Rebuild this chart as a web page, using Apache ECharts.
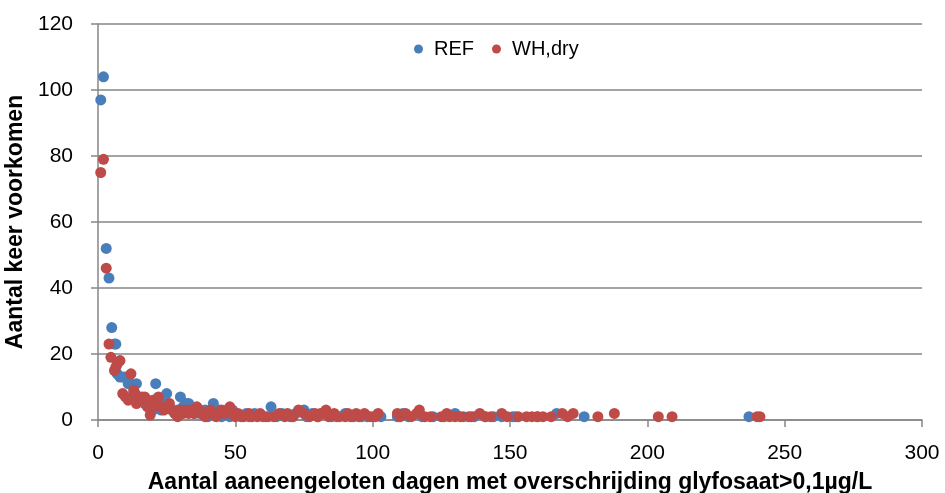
<!DOCTYPE html>
<html>
<head>
<meta charset="utf-8">
<script src="https://cdn.jsdelivr.net/npm/echarts@6/dist/echarts.min.js"></script>
<style>
  html, body { margin: 0; padding: 0; background: #fff; }
  #chart { width: 945px; height: 493px; }
</style>
</head>
<body>
<div id="chart"></div>
<script>
	'use strict';

	/****** data *****/
	var seriesNames = ['REF', 'WH,dry'];
	var xTicks = [0, 50, 100, 150, 200, 250, 300];
	var yTicks = [0, 20, 40, 60, 80, 100, 120];

	var refData = [
		[1, 97], [2, 104], [3, 52], [4, 43], [5, 28], [6, 23], [6.5, 23], [7, 14], [8, 13], [9, 13],
		[10, 13], [11, 11], [12, 11], [13, 8], [14, 11], [15, 7], [16, 6], [17, 5], [18, 6], [19, 4],
		[20, 3], [21, 11], [22, 4], [23, 3], [24, 5], [25, 8], [26, 4], [27, 3], [28, 2], [29, 3],
		[30, 7], [31, 4], [32, 5], [33, 5], [34, 3], [35, 2], [36, 3], [37, 2], [38, 2], [39, 3],
		[40, 1], [41, 2], [42, 5], [43, 2], [44, 3], [45, 1], [46, 2], [47, 2], [48, 1], [49, 3],
		[50, 2], [52, 1], [54, 2], [55, 1], [57, 2], [60, 1], [62, 1], [63, 4], [65, 1], [67, 2],
		[70, 1], [72, 2], [75, 3], [76, 1], [78, 2], [80, 1], [82, 2], [85, 1], [88, 1], [90, 2],
		[93, 1], [96, 1], [98, 1], [100, 1], [103, 1], [109, 1], [111, 2], [113, 1], [118, 1], [122, 1],
		[126, 1], [130, 2], [133, 1], [137, 1], [141, 1], [144, 1], [147, 1], [151, 1], [152, 1], [160, 1],
		[167, 2], [177, 1], [237, 1]
	];

	var whDryData = [
		[1, 75], [2, 79], [3, 46], [4, 23], [4.7, 19], [6, 15], [6.5, 16], [7, 17], [8, 18], [9, 8],
		[10, 7], [11, 6], [12, 14], [13, 9], [13.5, 8], [14, 5], [15, 6], [16, 7], [17, 7], [18, 4],
		[19, 1.5], [20, 6], [21, 4], [22, 7], [23, 4], [24, 3], [25, 4], [26, 5], [27, 3], [28, 2],
		[29, 1], [30, 3], [31, 2], [32, 3], [33, 2], [34, 3], [35, 2], [36, 4], [37, 3], [38, 2],
		[39, 1], [40, 2], [41, 3], [42, 2], [43, 1], [44, 2], [45, 3], [46, 2], [47, 3], [48, 4],
		[49, 2], [50, 1], [51, 2], [53, 1], [55, 2], [56, 1], [58, 1], [59, 2], [61, 1], [64, 1],
		[66, 2], [68, 1], [69, 2], [71, 1], [73, 3], [75, 2], [77, 1], [79, 2], [80, 1], [81, 2],
		[83, 3], [84, 1], [86, 2], [87, 1], [90, 1], [91, 2], [92, 1], [94, 2], [95, 1], [97, 2],
		[99, 1], [101, 1], [102, 2], [109, 2], [110, 1], [112, 2], [114, 1], [116, 2], [117, 3], [119, 1],
		[121, 1], [125, 1], [127, 2], [128, 1], [130, 1], [132, 1], [135, 1], [136, 1], [139, 2], [141, 1],
		[143, 1], [147, 2], [149, 1], [153, 1], [156, 1], [158, 1], [160, 1], [162, 1], [165, 1], [169, 2],
		[171, 1], [173, 2], [182, 1], [188, 2], [204, 1], [209, 1], [240, 1], [241, 1]
	];

	var xAxisTitle = 'Aantal aaneengeloten dagen met overschrijding glyfosaat>0,1µg/L';
	var yAxisTitle = 'Aantal keer voorkomen';

	var fontFam = 'Liberation Sans, Arial, sans-serif';
	var gridColor = '#868686';

	var option = {
		animation: false,
		color: ['#4A7EBB', '#BE4B48'],
		textStyle: { fontFamily: fontFam },
		legend: {
			top: 34,
			left: 409,
			itemWidth: 9,
			itemHeight: 9,
			itemGap: 18,
			icon: 'circle',
			textStyle: { fontSize: 20, color: '#000', fontFamily: fontFam, padding: [0, 0, 0, 6] },
			data: seriesNames
		},
		grid: {
			top: 24,
			left: 98,
			right: 23,
			bottom: 73,
			outerBoundsMode: 'none',
			containLabel: false
		},
		xAxis: {
			type: 'value',
			min: xTicks[0],
			max: xTicks[xTicks.length - 1],
			interval: 50,
			name: xAxisTitle,
			nameLocation: 'middle',
			nameGap: 51,
			nameTextStyle: { fontSize: 23, fontWeight: 'bold', color: '#000', fontFamily: fontFam },
			axisLine: { show: true, onZero: false, lineStyle: { color: gridColor, width: 1.5 } },
			axisTick: { show: true, inside: false, length: 7, lineStyle: { color: gridColor, width: 1.5 } },
			axisLabel: { fontSize: 21, color: '#000', margin: 23, fontFamily: fontFam },
			splitLine: { show: false }
		},
		yAxis: {
			type: 'value',
			min: yTicks[0],
			max: yTicks[yTicks.length - 1],
			interval: 20,
			name: yAxisTitle,
			nameLocation: 'middle',
			nameGap: 59,
			nameTextStyle: { fontSize: 23, fontWeight: 'bold', color: '#000', fontFamily: fontFam },
			axisLine: { show: true, lineStyle: { color: gridColor, width: 1.5 } },
			axisTick: { show: true, inside: false, length: 7, lineStyle: { color: gridColor, width: 1.5 } },
			axisLabel: { fontSize: 21, color: '#000', margin: 25, fontFamily: fontFam },
			splitLine: { show: true, lineStyle: { color: gridColor, width: 1.5 } }
		},
		series: [
			{
				name: seriesNames[0],
				type: 'scatter',
				symbolSize: 11,
				itemStyle: { opacity: 1 },
				data: refData
			},
			{
				name: seriesNames[1],
				type: 'scatter',
				symbolSize: 11,
				itemStyle: { opacity: 1 },
				data: whDryData
			}
		]
	};

	var chart = echarts.init(document.getElementById('chart'));
	chart.setOption(option);
</script>
</body>
</html>
